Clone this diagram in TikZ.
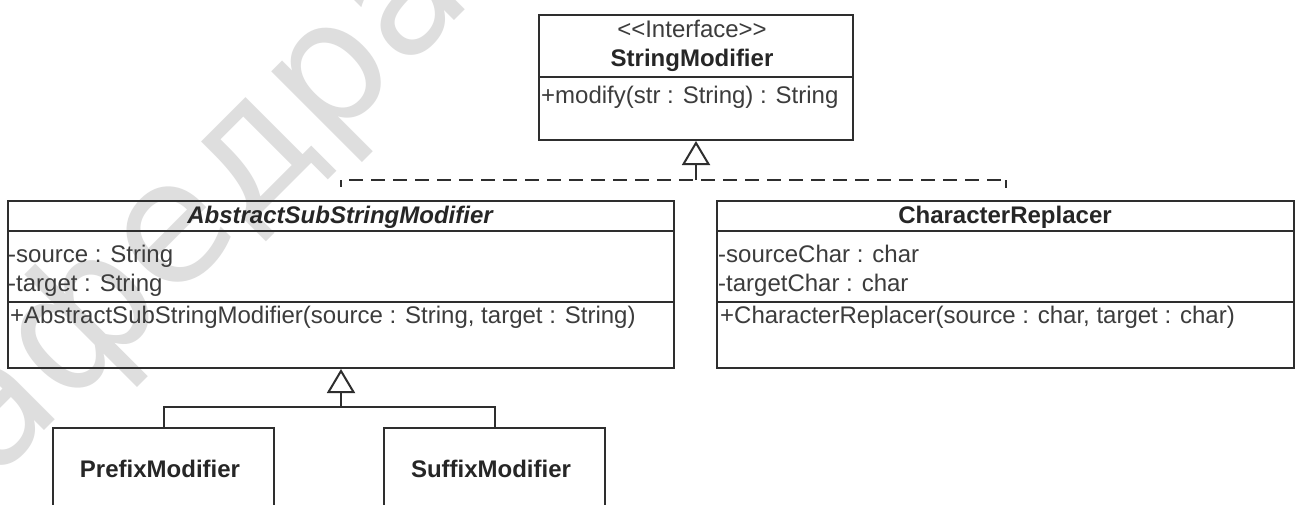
\documentclass[tikz,border=0pt]{standalone}
\usepackage{fontspec}
\newfontfamily\umlfont{Liberation Sans}
\newfontfamily\wmfont{DejaVu Sans}
\usetikzlibrary{arrows.meta}
\definecolor{umlline}{HTML}{2E2E2E}
\definecolor{umltext}{HTML}{3C3C3C}
\definecolor{umltitle}{HTML}{262626}
\definecolor{wmgray}{HTML}{DEDEDE}

\begin{document}
\begin{tikzpicture}[x=1pt,y=-1pt,
  classbox/.style={draw=umlline, line width=2pt, inner sep=0pt, anchor=north west},
  divider/.style={draw=umlline, line width=2pt},
  member/.style={inner sep=0pt, anchor=base west, text=umltext,
    font=\umlfont\fontsize{24}{28}\selectfont},
  classname/.style={inner sep=0pt, anchor=base, text=umltitle,
    font=\umlfont\fontsize{24}{28}\selectfont\bfseries},
  stereo/.style={inner sep=0pt, anchor=base, text=umltext,
    font=\umlfont\fontsize{24}{28}\selectfont},
  link/.style={draw=umlline, line width=2pt},
  realize/.style={link, dash pattern=on 14pt off 8pt, dash phase=14pt},
  opentri/.style={-{Triangle[open, length=24pt, width=28pt]}},
  watermark/.style={inner sep=0pt, anchor=base west, rotate=45, text=wmgray,
    font=\wmfont\fontsize{170}{170}\selectfont},
]
\useasboundingbox (0,0) rectangle (1298,504);
\clip (0,0) rectangle (1298,504);
\fill[white] (0,0) rectangle (1298,504);

% faint diagonal lettering in the background
\node[watermark] (wm) at (-80,555) {кафедра-};

% classes
\node[classbox, minimum width=314pt, minimum height=125pt] (iface) at (538,14) {};
\node[classbox, minimum width=666pt, minimum height=167pt] (asm) at (7,200) {};
\node[classbox, minimum width=577pt, minimum height=167pt] (cr) at (716,200) {};
\node[classbox, minimum width=221pt, minimum height=130pt] (pm) at (52,427) {};
\node[classbox, minimum width=221pt, minimum height=130pt] (sm) at (383,427) {};

% compartment dividers
\draw[divider] (iface.west |- 0,77) -- (iface.east |- 0,77);
\draw[divider] (asm.west |- 0,231) -- (asm.east |- 0,231);
\draw[divider] (asm.west |- 0,302) -- (asm.east |- 0,302);
\draw[divider] (cr.west |- 0,231) -- (cr.east |- 0,231);
\draw[divider] (cr.west |- 0,302) -- (cr.east |- 0,302);

% StringModifier
\node[stereo] (ifst) at (692,37) {<{}<Interface>{}>};
\node[classname] (ifname) at (692,66) {StringModifier};
\node[member] (ifop) at (541,103) {+modify(str : String) : String};

% AbstractSubStringModifier
\node[classname, font=\umlfont\fontsize{24}{28}\selectfont\bfseries\itshape] (asmname) at (340,223) {AbstractSubStringModifier};
\node[member] (asma) at (8,262) {-source : String};
\node[member] (asmb) at (8,291) {-target : String};
\node[member] (asmop) at (10,323) {+AbstractSubStringModifier(source : String, target : String)};

% CharacterReplacer
\node[classname] (crname) at (1005,223) {CharacterReplacer};
\node[member] (cra) at (718,262) {-sourceChar : char};
\node[member] (crb) at (718,291) {-targetChar : char};
\node[member] (crop) at (720,323) {+CharacterReplacer(source : char, target : char)};

% subclasses
\node[classname] (pmname) at (160,477) {PrefixModifier};
\node[classname] (smname) at (491,477) {SuffixModifier};

% realization of the interface
\coordinate (jl) at (asm.north |- 0,180);
\coordinate (jr) at (cr.north |- 0,180);
\coordinate (jmid) at (iface.south |- 0,180);
\draw[realize] (jl) -- (jr);
\draw[link, opentri] (jmid) -- (iface.south);
\draw[link, dash pattern=on 7pt off 40pt] (jl) -- (asm.north);
\draw[link, dash pattern=on 8pt off 40pt] (jr) -- (cr.north);

% generalization of the abstract class
\coordinate (jb) at (asm.south |- 0,407);
\draw[link, opentri] (jb) -- (asm.south);
\draw[link] (pm.north) |- (jb) -| (sm.north);
\end{tikzpicture}
\end{document}
